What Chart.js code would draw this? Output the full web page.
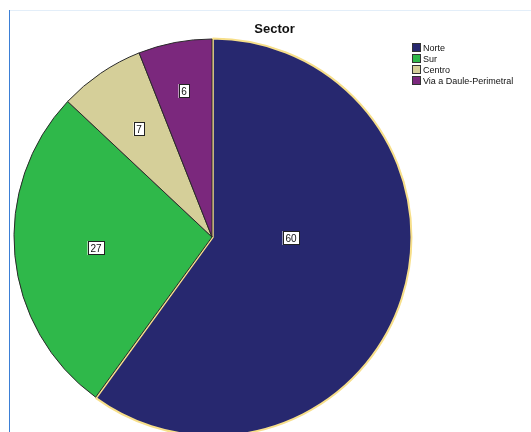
<!DOCTYPE html>
<html lang="es">
<head>
<meta charset="UTF-8">
<title>Sector</title>
<script src="https://cdn.jsdelivr.net/npm/chart.js@4.4.1"></script>
<style>
  html,body{margin:0;padding:0;background:#fff;overflow:hidden;}
  .wrap{position:relative;width:531px;height:432px;overflow:hidden;font-family:"Liberation Sans",Arial,sans-serif;}
  .wrap canvas{position:absolute;left:0;top:0;}
  .frame-l{position:absolute;left:9px;top:10px;width:1px;height:422px;background:#3b7fd6;}
  .frame-t{position:absolute;left:10px;top:10px;width:521px;height:1px;background:#e3eef9;}
  .title{position:absolute;left:14px;width:521px;top:21px;text-align:center;font-weight:bold;font-size:13px;color:#111;}
  .legend{position:absolute;left:412px;top:42px;font-size:9px;color:#111;}
  .legend div{display:flex;align-items:center;height:11px;}
  .legend span.box{display:inline-block;width:9px;height:9px;border:1px solid #333;margin-right:2px;box-sizing:border-box;}
</style>
</head>
<body>
<div class="wrap">
  <canvas id="pie" width="531" height="440"></canvas>
  <div class="frame-l"></div>
  <div class="frame-t"></div>
  <div class="title">Sector</div>
  <div class="legend" id="legend"></div>
</div>
<script>
const sectors=['Norte','Sur','Centro','Via a Daule-Perimetral'];
const counts=[60,27,7,6];
const colors=['#27286f','#2fb84a','#d5cf99','#7b287d'];
// label placement: fraction of radius along slice bisector, and angle tweak (deg)
const labelDist=[0.40,0.59,0.66,0.75];
const labelTurn=[-17,0,0,0];

const leg=document.getElementById('legend');
sectors.forEach((s,i)=>{
  const d=document.createElement('div');
  d.innerHTML='<span class="box" style="background:'+colors[i]+'"></span>'+s;
  leg.appendChild(d);
});

const boxLabels={id:'boxLabels',afterDatasetsDraw(chart){
  const ctx=chart.ctx,meta=chart.getDatasetMeta(0);
  ctx.save();
  ctx.font='10px "Liberation Sans", Arial, sans-serif';
  ctx.textAlign='center';ctx.textBaseline='middle';
  meta.data.forEach((arc,i)=>{
    const p=arc.getProps(['x','y','startAngle','endAngle','outerRadius'],true);
    const a=(p.startAngle+p.endAngle)/2+labelTurn[i]*Math.PI/180;
    const r=p.outerRadius*labelDist[i];
    const x=Math.round(p.x+Math.cos(a)*r),y=Math.round(p.y+Math.sin(a)*r);
    const t=String(counts[i]);
    const w=Math.ceil(ctx.measureText(t).width)+5,h=14;
    ctx.fillStyle='#fff';ctx.fillRect(x-w/2,y-h/2,w,h);
    ctx.strokeStyle='#222';ctx.lineWidth=1;ctx.strokeRect(Math.round(x-w/2)+0.5,Math.round(y-h/2)+0.5,w-1,h-1);
    ctx.fillStyle='#111';ctx.fillText(t,x,y+1);
  });
  ctx.restore();
}};

new Chart(document.getElementById('pie'),{
  type:'pie',
  data:{labels:sectors,datasets:[{data:counts,backgroundColor:colors,
    borderColor:['#f7df8a','#2a2a2a','#2a2a2a','#2a2a2a'],borderWidth:[2,1,1,1],offset:[3,0,0,0]}]},
  options:{responsive:false,animation:false,radius:198,
    layout:{padding:{left:14,right:121,top:39,bottom:5}},
    plugins:{legend:{display:false},title:{display:false},tooltip:{enabled:false}}},
  plugins:[boxLabels]
});
</script>
</body>
</html>
